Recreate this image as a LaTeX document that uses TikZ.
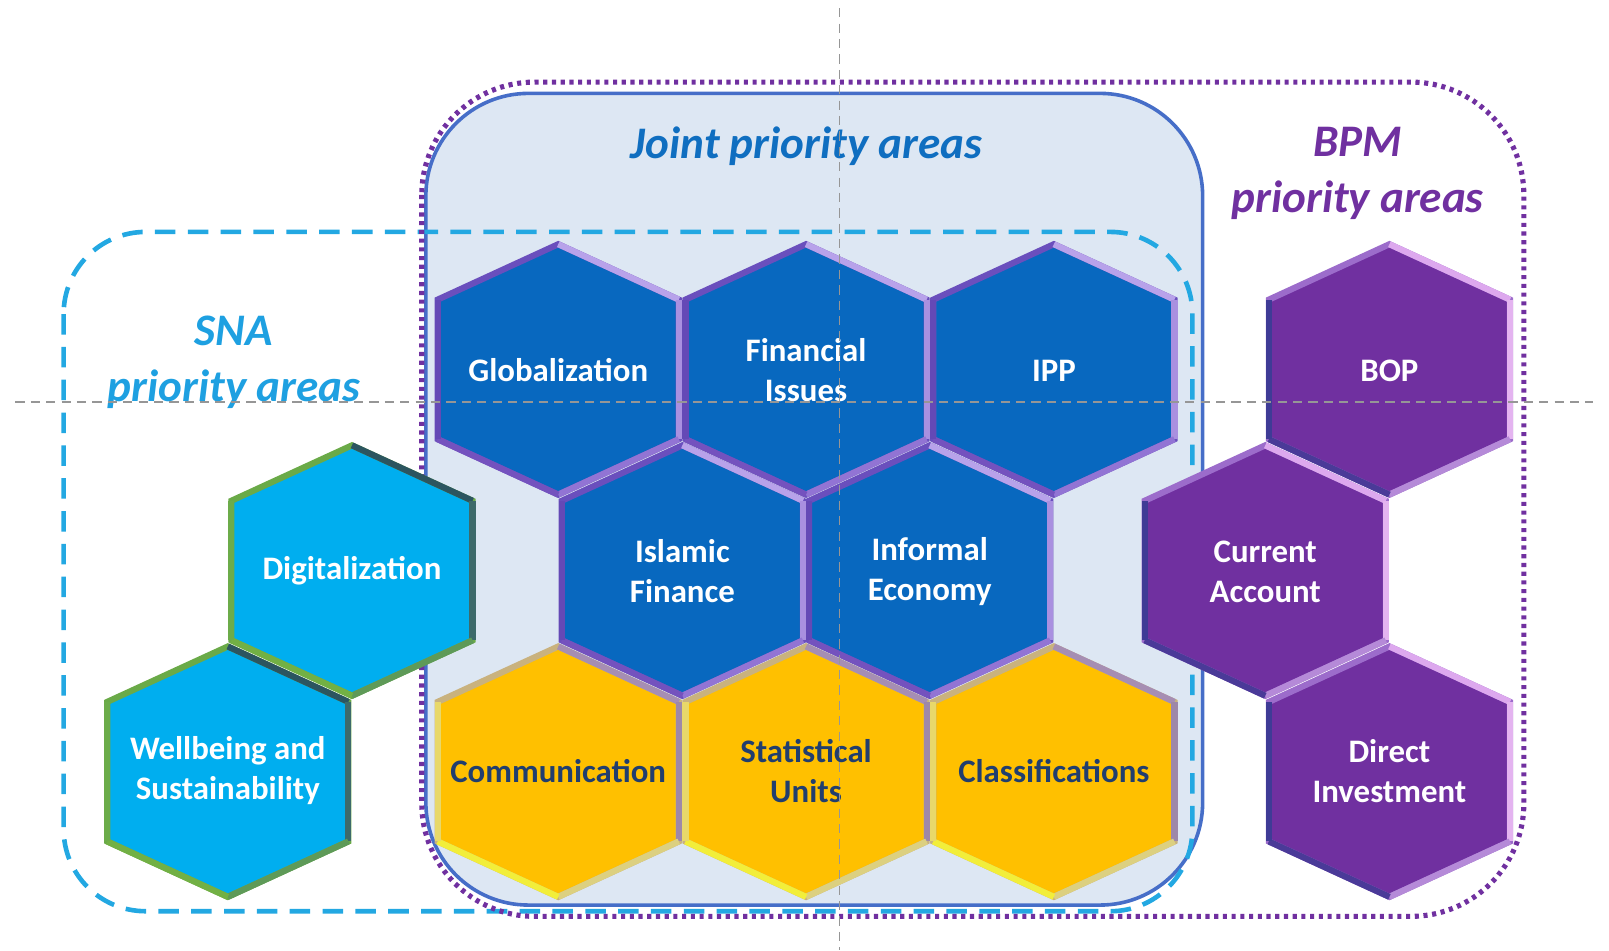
\documentclass[tikz,border=0pt]{standalone}
\usepackage{fontspec}
\setmainfont{Carlito}
% palettes: F fill, UL/UR/R/LR/LL/L edge colours
\definecolor{jF}{HTML}{0868BF}
\definecolor{jUL}{HTML}{6A4FBD}
\definecolor{jUR}{HTML}{B8A2EA}
\definecolor{jR}{HTML}{A990E0}
\definecolor{jLR}{HTML}{9274D4}
\definecolor{jLL}{HTML}{7452BE}
\definecolor{jL}{HTML}{6449B6}
\definecolor{yF}{HTML}{FFC000}
\definecolor{yUL}{HTML}{C9B27E}
\definecolor{yUR}{HTML}{A68EB3}
\definecolor{yR}{HTML}{9E88A8}
\definecolor{yLR}{HTML}{DCD080}
\definecolor{yLL}{HTML}{F2EE3A}
\definecolor{yL}{HTML}{E8D86A}
\definecolor{sF}{HTML}{00AEEF}
\definecolor{sUL}{HTML}{6AAA48}
\definecolor{sUR}{HTML}{2C5560}
\definecolor{sR}{HTML}{3D6A6A}
\definecolor{sLR}{HTML}{5E9A58}
\definecolor{sLL}{HTML}{72B044}
\definecolor{sL}{HTML}{6CAC4A}
\definecolor{bF}{HTML}{7030A0}
\definecolor{bUL}{HTML}{9C6CCB}
\definecolor{bUR}{HTML}{DDA8EE}
\definecolor{bR}{HTML}{E4B4F0}
\definecolor{bLR}{HTML}{B58AD8}
\definecolor{bLL}{HTML}{4A3A98}
\definecolor{bL}{HTML}{3F3B96}
\definecolor{jointfill}{RGB}{221,231,243}
\definecolor{jointblue}{RGB}{70,110,200}
\definecolor{snablue}{RGB}{35,168,226}
\definecolor{bpmpurple}{RGB}{112,48,160}
\definecolor{jointtitle}{RGB}{15,110,192}
\definecolor{snatitle}{RGB}{30,160,225}
\definecolor{navytext}{HTML}{213E6E}
\definecolor{guidegray}{RGB}{150,150,150}
\def\hexA{117.5}
\def\hexH{122}
\def\hexS{68}
\newcommand{\hexcell}[3]{%
  \begin{scope}[shift={(#1,#2)}]
    \fill[#3F] (0,-\hexH) -- (\hexA,-\hexS) -- (\hexA,\hexS) -- (0,\hexH) -- (-\hexA,\hexS) -- (-\hexA,-\hexS) -- cycle;
    \draw[#3UL, line width=6pt, line join=miter] (0,-\hexH) -- (\hexA,-\hexS) -- (\hexA,\hexS) -- (0,\hexH) -- (-\hexA,\hexS) -- (-\hexA,-\hexS) -- cycle;
    \draw[#3UR, hexedge] (0,-\hexH) -- (\hexA,-\hexS);
    \draw[#3R, hexedge] (\hexA,-\hexS) -- (\hexA,\hexS);
    \draw[#3LR, hexedge] (\hexA,\hexS) -- (0,\hexH);
    \draw[#3LL, hexedge] (0,\hexH) -- (-\hexA,\hexS);
    \draw[#3L, hexedge] (-\hexA,\hexS) -- (-\hexA,-\hexS);
  \end{scope}}
\tikzset{
  hexedge/.style={line width=6pt, line cap=butt},
  hexlabel/.style={font=\fontsize{32}{39}\selectfont\bfseries, align=center, inner sep=0pt},
  titlelabel/.style={font=\fontsize{44}{54}\selectfont\bfseries\itshape, align=center, inner sep=0pt},
  jointline/.style={draw=jointblue, line width=3.5pt, rounded corners=100pt},
  snaline/.style={draw=snablue, line width=4.5pt, dash pattern=on 20pt off 12pt, rounded corners=80pt},
  bpmline/.style={draw=bpmpurple, line width=5pt, dash pattern=on 4pt off 4.5pt, rounded corners=110pt},
  guideline/.style={draw=guidegray, line width=1.5pt, dash pattern=on 9pt off 6pt}
}
\begin{document}
\begin{tikzpicture}[x=1pt,y=-1pt]
\useasboundingbox (0,0) rectangle (1568,926);
% regions
\fill[jointfill, rounded corners=100pt] (415,91) rectangle (1172,882);
\draw[jointline] (415,91) rectangle (1172,882);
\draw[snaline] (62,226) rectangle (1162,888);
\draw[bpmline] (411,80) rectangle (1485,893);
% titles
\node[titlelabel, text=jointtitle] (jointT) at (786,142) {Joint priority areas};
\node[titlelabel, text=snatitle] (snaT) at (228,353) {SNA\\priority areas};
\node[titlelabel, text=bpmpurple] (bpmT) at (1323,169) {BPM\\priority areas};
% hexagons
\hexcell{544}{360}{j}
\hexcell{785.5}{360}{j}
\hexcell{1027}{360}{j}
\hexcell{665}{556}{j}
\hexcell{906}{556}{j}
\hexcell{544}{752}{y}
\hexcell{785.5}{752}{y}
\hexcell{1027}{752}{y}
\hexcell{343}{556}{s}
\hexcell{222}{752}{s}
\hexcell{1354}{360}{b}
\hexcell{1233}{556}{b}
\hexcell{1354}{752}{b}
% labels
\node[hexlabel, text=white] (glob) at (544,361) {Globalization};
\node[hexlabel, text=white] (fin) at (785.5,361) {Financial\\Issues};
\node[hexlabel, text=white] (ipp) at (1027,361) {IPP};
\node[hexlabel, text=white] (isl) at (665,557) {Islamic\\Finance};
\node[hexlabel, text=white] (inf) at (906,557) {Informal\\Economy};
\node[hexlabel, text=navytext] (com) at (544,751) {Communication};
\node[hexlabel, text=navytext] (stu) at (785.5,751) {Statistical\\Units};
\node[hexlabel, text=navytext] (cla) at (1027,751) {Classifications};
\node[hexlabel, text=white] (dig) at (343,556) {Digitalization};
\node[hexlabel, text=white] (wel) at (222,751) {Wellbeing and\\Sustainability};
\node[hexlabel, text=white] (bop) at (1354,361) {BOP};
\node[hexlabel, text=white] (cur) at (1233,557) {Current\\Account};
\node[hexlabel, text=white] (dir) at (1354,751) {Direct\\Investment};
% guides
\coordinate (gL) at (15,392);
\coordinate (gR) at (1552,392);
\coordinate (gT) at (818,8);
\coordinate (gB) at (818,926);
\draw[guideline] (gL) -- (gR);
\draw[guideline] (gT) -- (gB);
\end{tikzpicture}
\end{document}
